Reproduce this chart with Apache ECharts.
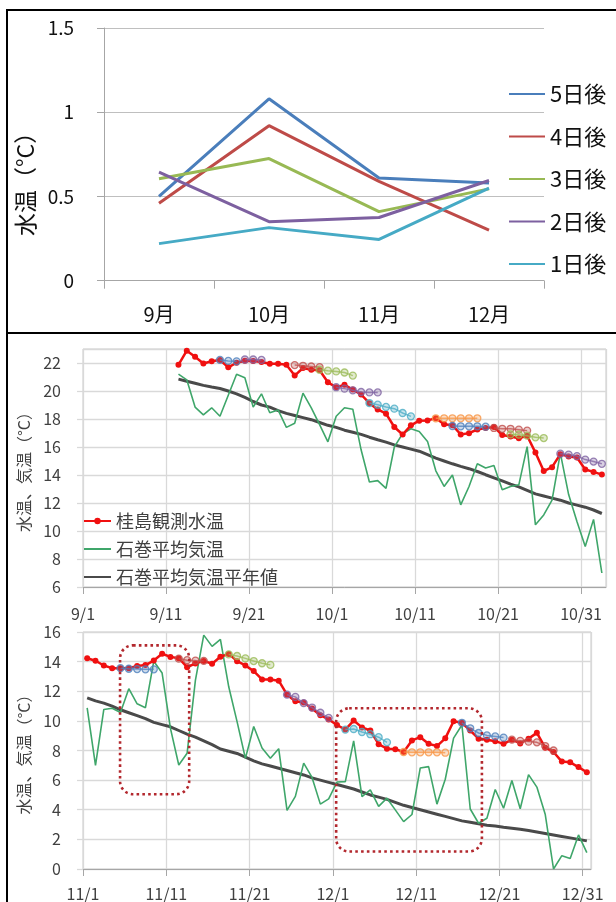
<!DOCTYPE html>
<html><head><meta charset="utf-8">
<script src="https://cdn.jsdelivr.net/npm/echarts@6/dist/echarts.min.js"></script>
<style>html,body{margin:0;padding:0;background:#fff;}#c{width:616px;height:902px;}</style>
</head><body><div id="c"></div>
<script>
// ================= DATA =================
// top chart: monthly error by lead time
const months = ['9月', '10月', '11月', '12月'];
const topNames = ['5日後', '4日後', '3日後', '2日後', '1日後'];
const lead5 = [0.50, 1.08, 0.61, 0.58];
const lead4 = [0.46, 0.92, 0.59, 0.30];
const lead3 = [0.605, 0.725, 0.41, 0.545];
const lead2 = [0.645, 0.35, 0.375, 0.595];
const lead1 = [0.22, 0.315, 0.245, 0.55];

// daily charts
const midTicks = ['9/1', '9/11', '9/21', '10/1', '10/11', '10/21', '10/31'];
const botTicks = ['11/1', '11/11', '11/21', '12/1', '12/11', '12/21', '12/31'];
const lowNames = ['桂島観測水温', '石巻平均気温', '石巻平均気温平年値'];

const midStart = '9/12';
const midWater = [21.87, 22.88, 22.44, 21.97, 22.13, 22.21, 21.69, 22.02, 22.16, 22.14,
  22.07, 21.95, 21.95, 21.88, 21.10, 21.64, 21.52, 21.48, 20.62, 20.27,
  20.44, 20.10, 19.75, 19.13, 18.68, 18.38, 17.43, 16.89, 17.55, 17.88,
  17.90, 18.05, 17.63, 17.56, 16.89, 16.99, 17.25, 17.35, 17.42, 16.86,
  16.75, 16.63, 16.80, 15.60, 14.28, 14.56, 15.49, 15.32, 15.25, 14.39,
  14.22, 14.03];
const midAir = [21.2, 20.8, 18.85, 18.3, 18.8, 18.2, 19.7, 21.2, 20.95, 18.85,
  19.8, 18.45, 18.65, 17.4, 17.7, 19.85, 18.8, 17.6, 16.37, 18.2,
  18.8, 18.7, 15.8, 13.5, 13.6, 13.05, 16.0, 16.95, 17.3, 17.1,
  16.4, 14.3, 13.18, 14.0, 11.87, 13.18, 14.8, 14.5, 14.68, 12.94,
  13.18, 13.3, 16.03, 10.44, 11.15, 12.2, 15.56, 12.6, 10.68, 8.9,
  10.83, 7.0];
const midNormal = [20.85, 20.7, 20.55, 20.4, 20.28, 20.18, 20.0, 19.8, 19.55, 19.25,
  19.0, 18.85, 18.6, 18.4, 18.25, 18.1, 17.95, 17.75, 17.55, 17.4,
  17.2, 17.05, 16.9, 16.7, 16.52, 16.35, 16.15, 16.0, 15.85, 15.7,
  15.45, 15.2, 15.0, 14.8, 14.62, 14.45, 14.25, 14.02, 13.8, 13.58,
  13.35, 13.15, 12.9, 12.65, 12.5, 12.35, 12.2, 12.0, 11.85, 11.7,
  11.5, 11.25];
const midFcStart = ['9/17', '9/20', '9/26', '9/29', '10/1', '10/5', '10/13', '10/15', '10/20', '10/22', '10/28'];
const midFcValues = [
  [22.22, 22.15, 22.12],
  [22.25, 22.25, 22.22],
  [21.85, 21.8, 21.75, 21.7],
  [21.52, 21.45, 21.4, 21.32, 21.1],
  [20.27, 20.17, 20.05, 19.93, 19.9, 19.9],
  [19.14, 19.02, 18.86, 18.74, 18.43, 18.19],
  [18.05, 18.05, 18.05, 18.05, 18.05, 18.05],
  [17.5, 17.48, 17.48, 17.48, 17.45],
  [17.36, 17.3, 17.3, 17.24, 17.17],
  [16.9, 16.88, 16.81, 16.69, 16.64],
  [15.52, 15.46, 15.35, 15.1, 14.96, 14.8]
];

const botStart = '11/1';
const botWater = [14.23, 14.06, 13.74, 13.56, 13.56, 13.56, 13.71, 13.77, 14.07, 14.53,
  14.32, 14.23, 13.62, 13.88, 14.05, 13.86, 14.33, 14.52, 14.03, 13.74,
  13.36, 12.80, 12.80, 12.71, 11.77, 11.33, 11.24, 10.84, 10.38, 10.10,
  9.72, 9.41, 10.02, 9.56, 9.35, 8.43, 8.12, 8.09, 7.90, 8.68,
  8.90, 8.45, 8.30, 8.82, 9.97, 9.87, 9.35, 8.80, 8.73, 8.63,
  8.45, 8.73, 8.48, 8.80, 9.19, 8.19, 7.90, 7.25, 7.20, 6.88,
  6.53];
const botAir = [10.87, 7.0, 10.77, 10.85, 10.57, 12.17, 11.15, 10.89, 14.03, 13.23,
  9.49, 7.02, 7.81, 12.75, 15.79, 15.03, 15.5, 12.3, 9.95, 7.47,
  9.62, 8.17, 7.47, 8.12, 3.96, 4.9, 7.15, 6.18, 4.38, 4.73,
  5.87, 5.9, 8.65, 4.89, 5.34, 4.23, 4.78, 3.99, 3.2, 3.68,
  6.82, 6.91, 4.38, 6.06, 8.84, 9.72, 4.05, 3.09, 3.43, 5.37,
  4.1, 5.98, 4.07, 6.37, 5.53, 3.7, 0.0, 0.9, 0.71, 2.3,
  1.1];
const botNormal = [11.55, 11.35, 11.2, 11.0, 10.75, 10.55, 10.35, 10.15, 9.9, 9.75,
  9.6, 9.35, 9.1, 8.9, 8.65, 8.4, 8.1, 7.95, 7.8, 7.55,
  7.3, 7.1, 6.95, 6.8, 6.65, 6.5, 6.35, 6.15, 6.0, 5.85,
  5.7, 5.55, 5.4, 5.2, 5.0, 4.85, 4.7, 4.5, 4.3, 4.15,
  4.0, 3.85, 3.7, 3.55, 3.4, 3.25, 3.15, 3.05, 2.95, 2.9,
  2.82, 2.75, 2.68, 2.6, 2.5, 2.4, 2.3, 2.2, 2.1, 2.0,
  1.9];
const botFcStart = ['11/5', '11/12', '11/18', '11/25', '12/2', '12/9', '12/16', '12/22'];
const botFcValues = [
  [13.56, 13.52, 13.5, 13.48, 13.48],
  [14.2, 14.1, 14.07, 14.05],
  [14.49, 14.38, 14.22, 14.04, 13.89, 13.78],
  [11.77, 11.62, 11.2, 10.9, 10.55, 10.2],
  [9.41, 9.45, 9.25, 9.1, 8.9, 8.55],
  [7.9, 7.88, 7.88, 7.88, 7.88, 7.85],
  [9.87, 9.5, 9.18, 9.02, 8.95, 8.87],
  [8.73, 8.65, 8.6, 8.55, 8.3, 8.0]
];
// highlighted periods (days from 11/1, temperature range)
const botBoxes = [
  [4.45, 15.1, 12.75, 5.05],
  [30.4, 10.85, 47.9, 1.18]
];

// ================= STYLE =================
const FONT = "'Noto Sans CJK JP', sans-serif";
const topColors = ['#4A7EBB', '#BE4B48', '#98B954', '#7D60A0', '#46AAC5'];
const pal = { blue: '#4F81BD', red: '#C0504D', green: '#9BBB59', purple: '#8064A2', cyan: '#4BACC6', orange: '#F79646' };
const midFcColors = ['blue', 'purple', 'red', 'green', 'purple', 'cyan', 'orange', 'blue', 'red', 'green', 'purple'];
const botFcColors = ['blue', 'red', 'green', 'purple', 'cyan', 'orange', 'blue', 'red'];
const gridColor = '#D9D9D9';
const axisColor = '#A6A6A6';
const textColor = '#404040';

// ================= HELPERS =================
const monthLen = { 9: 30, 10: 31, 11: 30, 12: 31 };
function dayIndex(md, base) {
  const [m, d] = md.split('/').map(Number);
  const [bm, bd] = base.split('/').map(Number);
  let n = 0;
  for (let mm = bm; mm < m; mm++) n += monthLen[mm];
  return n + d - bd;
}
function toPoints(values, start, base) {
  const s = dayIndex(start, base);
  return values.map((v, i) => [s + i + 0.5, v]);
}
function hexA(hex, a) {
  const n = parseInt(hex.slice(1), 16);
  return `rgba(${(n >> 16) & 255},${(n >> 8) & 255},${n & 255},${a})`;
}
function tickFmt(ticks) {
  return v => { const i = Math.round(v / 10); return (Math.abs(v - i * 10) < 1e-6 && ticks[i]) ? ticks[i] : ''; };
}

// ================= SERIES =================
const series = [];
[lead5, lead4, lead3, lead2, lead1].forEach((arr, i) => {
  series.push({
    name: topNames[i], type: 'line', xAxisIndex: 0, yAxisIndex: 0, data: arr,
    symbol: 'none', lineStyle: { width: 3, color: topColors[i] }, itemStyle: { color: topColors[i] }, z: 3
  });
});

function lowerSeries(idx, base, start, water, air, normal, fcStarts, fcVals, fcCols) {
  series.push({
    name: lowNames[2], type: 'line', xAxisIndex: idx, yAxisIndex: idx,
    data: toPoints(normal, start, base), symbol: 'none',
    lineStyle: { width: 3, color: '#4A4A4A' }, itemStyle: { color: '#4A4A4A' }, z: 2
  });
  series.push({
    name: lowNames[1], type: 'line', xAxisIndex: idx, yAxisIndex: idx,
    data: toPoints(air, start, base), symbol: 'none',
    lineStyle: { width: 1.6, color: '#3FA66A' }, itemStyle: { color: '#3FA66A' }, z: 2
  });
  series.push({
    name: lowNames[0], type: 'line', xAxisIndex: idx, yAxisIndex: idx,
    data: toPoints(water, start, base), symbol: 'circle', symbolSize: 6, showSymbol: true,
    lineStyle: { width: 2.5, color: '#F01010' }, itemStyle: { color: '#F01010' }, z: 3
  });
  fcVals.forEach((vals, j) => {
    const c = pal[fcCols[j]];
    series.push({
      name: 'fc' + idx + '_' + j, type: 'line', xAxisIndex: idx, yAxisIndex: idx,
      data: toPoints(vals, fcStarts[j], base), symbol: 'circle', symbolSize: 7, showSymbol: true,
      lineStyle: { width: 1.5, color: hexA(c, 0.75) },
      itemStyle: { color: hexA(c, 0.3), borderColor: hexA(c, 0.8), borderWidth: 1.3 }, z: 4
    });
  });
}
lowerSeries(1, '9/1', midStart, midWater, midAir, midNormal, midFcStart, midFcValues, midFcColors);
lowerSeries(2, '11/1', botStart, botWater, botAir, botNormal, botFcStart, botFcValues, botFcColors);

series.push({
  type: 'custom', name: 'boxes', xAxisIndex: 2, yAxisIndex: 2, data: botBoxes, z: 6,
  encode: { x: [0, 2], y: [1, 3] },
  renderItem: (params, api) => {
    const p1 = api.coord([api.value(0), api.value(1)]);
    const p2 = api.coord([api.value(2), api.value(3)]);
    return {
      type: 'rect',
      shape: { x: p1[0], y: p1[1], width: p2[0] - p1[0], height: p2[1] - p1[1], r: 13 },
      style: { fill: 'none', stroke: '#B3282E', lineWidth: 2.6, lineDash: [2.6, 3.2] }
    };
  }
});

// ================= AXES =================
function valueX(idx, max, ticks, margin) {
  return {
    gridIndex: idx, type: 'value', min: 0, max: max, interval: 10,
    axisLine: { show: true, lineStyle: { color: axisColor, width: 1 } },
    axisTick: { show: true, length: 7, lineStyle: { color: axisColor } },
    splitLine: { show: true, lineStyle: { color: gridColor, width: 1.3 } },
    axisLabel: { formatter: tickFmt(ticks), color: textColor, fontSize: 16, fontFamily: FONT, margin: margin, showMaxLabel: false }
  };
}
function valueY(idx, min, max) {
  return {
    gridIndex: idx, type: 'value', min: min, max: max, interval: 2,
    name: '水温、気温（°C）', nameLocation: 'middle', nameGap: 50,
    nameTextStyle: { fontSize: 16, color: textColor, fontFamily: FONT },
    axisLine: { show: false },
    axisTick: { show: true, length: 6, lineStyle: { color: gridColor, width: 1.3 } },
    splitLine: { show: true, lineStyle: { color: gridColor, width: 1.3 } },
    axisLabel: { color: textColor, fontSize: 16, fontFamily: FONT, margin: 22, showMaxLabel: min === 0 }
  };
}

const option = {
  animation: false,
  backgroundColor: '#fff',
  textStyle: { fontFamily: FONT },
  grid: [
    { left: 104, top: 28, width: 440, height: 252.7 },
    { left: 83, top: 349, width: 523, height: 238, show: true, borderColor: '#C8C8C8', borderWidth: 1 },
    { left: 83, top: 632, width: 508, height: 237.3, show: true, borderColor: '#C8C8C8', borderWidth: 1 }
  ],
  xAxis: [
    {
      gridIndex: 0, type: 'category', data: months, boundaryGap: true,
      axisLine: { lineStyle: { color: axisColor } },
      axisTick: { show: true, interval: 0, length: 8, lineStyle: { color: axisColor } },
      axisLabel: { color: '#111', fontSize: 20, fontFamily: FONT, margin: 24 },
      splitLine: { show: false }
    },
    valueX(1, 63, midTicks, 19),
    valueX(2, 61, botTicks, 17)
  ],
  yAxis: [
    {
      gridIndex: 0, type: 'value', min: 0, max: 1.5, interval: 0.5,
      name: '水温（°C）', nameLocation: 'middle', nameGap: 64,
      nameTextStyle: { fontSize: 23, color: '#111', fontFamily: FONT, padding: [0, 48, 0, 0] },
      axisLine: { show: true, lineStyle: { color: axisColor } },
      axisTick: { show: true, length: 7, lineStyle: { color: axisColor } },
      splitLine: { show: true, lineStyle: { color: '#BFBFBF' } },
      axisLabel: { color: '#111', fontSize: 19, fontFamily: FONT, margin: 30 }
    },
    valueY(1, 6, 23),
    valueY(2, 0, 16)
  ],
  legend: [
    {
      data: topNames.map(n => ({ name: n, itemStyle: { opacity: 0 } })),
      orient: 'vertical', left: 508, top: 83, padding: 0,
      itemWidth: 36, itemHeight: 14, itemGap: 20.5,
      textStyle: { fontSize: 22, lineHeight: 20, color: '#111', fontFamily: FONT }
    },
    {
      data: [
        { name: lowNames[0] },
        { name: lowNames[1], itemStyle: { opacity: 0 } },
        { name: lowNames[2], itemStyle: { opacity: 0 } }
      ],
      orient: 'vertical', left: 83, top: 512, padding: 0,
      itemWidth: 27, itemHeight: 8, itemGap: 10,
      textStyle: { fontSize: 18, lineHeight: 18, color: textColor, fontFamily: FONT }
    }
  ],
  graphic: [
    { type: 'rect', shape: { x: 7, y: 10, width: 640, height: 323 }, style: { fill: 'none', stroke: '#000', lineWidth: 2 }, z: 10 },
    { type: 'rect', shape: { x: 7, y: 333, width: 640, height: 620 }, style: { fill: 'none', stroke: '#000', lineWidth: 2 }, z: 10 }
  ],
  series: series
};

const chart = echarts.init(document.getElementById('c'), null, { renderer: 'canvas' });
chart.setOption(option);
</script>
</body></html>
